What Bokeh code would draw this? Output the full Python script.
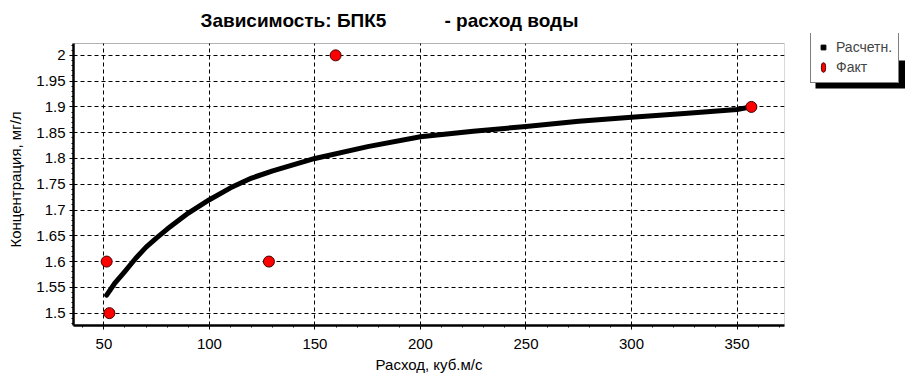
from bokeh.plotting import figure
from bokeh.layouts import row
from bokeh.models import (FixedTicker, Range1d, Legend, LegendItem, Title, BoxAnnotation)
from bokeh.embed import file_html
from bokeh.resources import INLINE

# Fitted (calculated) curve
calc_x = [51.3, 55, 60, 65, 70, 75, 80, 90, 100, 110, 120, 130, 140, 150, 175, 200, 225, 250, 275, 300, 325, 350, 356.8]
calc_y = [1.535, 1.557, 1.581, 1.606, 1.628, 1.646, 1.663, 1.694, 1.720, 1.743, 1.762, 1.776, 1.788, 1.800, 1.823, 1.842, 1.853, 1.862, 1.872, 1.880, 1.887, 1.895, 1.900]

# Observed points
fact_x = [51.3, 52.6, 128.2, 159.8, 356.8]
fact_y = [1.6, 1.5, 1.6, 2.0, 1.9]

x_ticks = [50, 100, 150, 200, 250, 300, 350]
y_ticks = [1.5, 1.55, 1.6, 1.65, 1.7, 1.75, 1.8, 1.85, 1.9, 1.95, 2.0]
y_labels = ["1.5", "1.55", "1.6", "1.65", "1.7", "1.75", "1.8", "1.85", "1.9", "1.95", "2"]

title_text = "Зависимость: БПК5" + "\u00a0" * 11 + "- расход воды"
x_label = "Расход, куб.м/с"
y_label = "Концентрация, мг/л"
legend_labels = ["Расчетн.", "Факт"]

FONT = "Liberation Sans"
NAN = float("nan")

X0, X1 = 35.6, 372.5          # visible axis limits
Y0, Y1 = 1.476, 2.023
Y_TOP = 2.0424                # frame extends ~10px above the chart box (room for the legend)

p = figure(width=800, height=376, output_backend="svg", toolbar_location=None,
           x_range=Range1d(X0, X1), y_range=Range1d(Y0, Y_TOP),
           min_border_left=73, min_border_right=16, min_border_top=33, min_border_bottom=51)
p.title = None
t = Title(text=title_text, align="left", offset=127, text_font=FONT, text_font_size="19px",
          text_font_style="bold", text_color="black", standoff=5)
p.add_layout(t, "above")

p.background_fill_color = "white"
p.border_fill_color = "white"
p.outline_line_color = None

# Axes
p.xaxis.ticker = FixedTicker(ticks=x_ticks, minor_ticks=list(range(40, 371, 10)))
p.yaxis.ticker = FixedTicker(ticks=y_ticks, minor_ticks=[round(1.48 + 0.01 * i, 2) for i in range(55)])
p.yaxis.major_label_overrides = {v: l for v, l in zip(y_ticks, y_labels)}
p.yaxis.bounds = (Y0, Y1)

for ax in (p.xaxis, p.yaxis):
    ax.axis_line_color = "black"
    ax.axis_line_width = 2.5
    ax.major_tick_line_color = "black"
    ax.minor_tick_line_color = "black"
    ax.major_tick_in = 0
    ax.major_tick_out = 4
    ax.minor_tick_in = 0
    ax.minor_tick_out = 2
    ax.major_label_text_font = FONT
    ax.major_label_text_font_size = "15px"
    ax.major_label_text_color = "black"
    ax.axis_label_text_font = FONT
    ax.axis_label_text_font_size = "15px"
    ax.axis_label_text_font_style = "normal"
    ax.axis_label_text_color = "black"

p.xaxis.axis_label = x_label
p.yaxis.axis_label = y_label
p.xaxis.major_label_standoff = 9
p.yaxis.major_label_standoff = 4
p.xaxis.axis_label_standoff = 4
p.yaxis.axis_label_standoff = 9

# Grid
for g in (p.xgrid, p.ygrid):
    g.grid_line_color = "black"
    g.grid_line_dash = "4 3"
    g.grid_line_width = 1
p.xgrid.ticker = FixedTicker(ticks=x_ticks)
p.ygrid.ticker = FixedTicker(ticks=y_ticks)

# white strip above the chart box (hides grid stubs), and the chart box outline
p.add_layout(BoxAnnotation(left=X0, right=X1, bottom=Y1, top=Y_TOP, fill_color="white",
                           fill_alpha=1, line_color=None, level="underlay"))
p.add_layout(BoxAnnotation(left=X0, right=X1, bottom=Y0, top=Y1, fill_alpha=0,
                           line_color="black", line_width=1))

# Data
p.line(calc_x, calc_y, line_color="black", line_width=5, line_join="round", line_cap="round")
p.scatter(fact_x, fact_y, size=11, fill_color="#ff0000", line_color="#400000", line_width=1)

# Legend panel (separate figure to the right; ranges map 1:1 to pixels)
lg = figure(width=105, height=376, output_backend="svg", toolbar_location=None,
            x_range=Range1d(0, 105), y_range=Range1d(51, 343),
            min_border_left=0, min_border_right=0, min_border_top=33, min_border_bottom=51)
lg.title = None
lg.xaxis.visible = False
lg.yaxis.visible = False
lg.grid.visible = False
lg.outline_line_color = None
lg.background_fill_color = "white"
lg.border_fill_color = "white"

shadow = BoxAnnotation(left=15, right=120, top=316, bottom=288, fill_color="black", fill_alpha=1,
                       line_color=None)
lg.add_layout(shadow)

# legend proxies (NaN positions: never drawn in the plot area)
sq = lg.scatter(x=[NAN], y=[NAN], marker="square", size=4, fill_color="black", line_color="black")
el = lg.ellipse(x=[NAN], y=[NAN], width=4, height=9, width_units="screen", height_units="screen",
                fill_color="#ff0000", line_color="#400000")

legend = Legend(items=[LegendItem(label=legend_labels[0], renderers=[sq], index=0),
                       LegendItem(label=legend_labels[1], renderers=[el], index=0)],
                location=(10, 242), orientation="vertical",
                label_text_font=FONT, label_text_font_size="14px",
                glyph_width=12, glyph_height=18, label_height=18, spacing=2,
                padding=6, margin=0, label_standoff=7,
                border_line_color="black", border_line_width=1,
                background_fill_color="white", background_fill_alpha=1)
lg.add_layout(legend, "center")

layout = row(p, lg, spacing=0)
open("out.html", "w").write(file_html(layout, INLINE))
